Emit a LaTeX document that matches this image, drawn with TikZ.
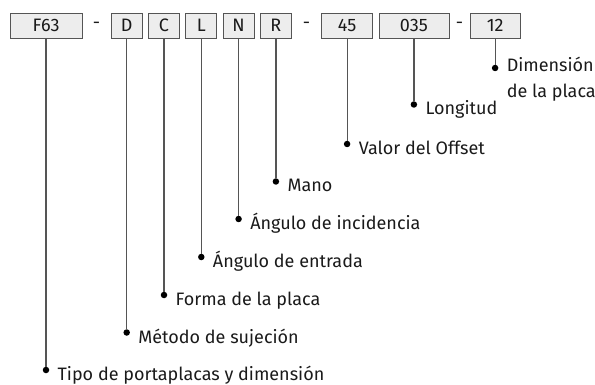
\documentclass[tikz,border=0pt]{standalone}
\usepackage{fontspec}
\setmainfont{Fira Sans}
\usetikzlibrary{positioning}
\definecolor{CodeFill}{HTML}{EDEDED}
\definecolor{CodeLine}{HTML}{555555}
\definecolor{TextDark}{HTML}{1A1A1A}

\begin{document}
\begin{tikzpicture}[x=1pt,y=1pt,node distance=5.5pt]
  \tikzstyle{code}=[draw=CodeLine,fill=CodeFill,line width=0.8pt,
    minimum height=25pt,minimum width=31pt,inner sep=0pt,
    text=TextDark,font=\fontsize{18}{20}\selectfont]
  \tikzstyle{sep}=[inner sep=0pt,minimum height=25pt,
    text=TextDark,font=\fontsize{18}{20}\selectfont]
  \tikzstyle{dot}=[circle,fill=black,inner sep=0pt,minimum size=6.5pt]
  \tikzstyle{lead}=[draw=CodeLine,line width=1.2pt]
  \tikzstyle{desc}=[anchor=base west,inner sep=0pt,align=left,
    text=TextDark,font=\fontsize{18}{26.5}\selectfont]
  \useasboundingbox (0,0) rectangle (595,-385);
  % code boxes
  \node[code,minimum width=72pt] (f63) at (46,-25.5) {F63};
  \node[sep,minimum width=28pt,right=0pt of f63] (s1) {-};
  \node[code,right=0pt of s1] (d) {D};
  \node[code,right=of d] (c) {C};
  \node[code,right=of c] (l) {L};
  \node[code,right=of l] (n) {N};
  \node[code,right=of n] (r) {R};
  \node[sep,minimum width=29pt,right=0pt of r] (s2) {-};
  \node[code,minimum width=51pt,right=0pt of s2] (off) {45};
  \node[code,minimum width=70pt,right=of off] (len) {035};
  \node[sep,minimum width=20pt,right=0pt of len] (s3) {-};
  \node[code,minimum width=50pt,right=0pt of s3] (dim) {12};
  % dots
  \node[dot] (p1) at (f63.south |- 0,-370) {};
  \node[dot] (p2) at (d.south |- 0,-332.5) {};
  \node[dot] (p3) at (c.south |- 0,-295) {};
  \node[dot] (p4) at (l.south |- 0,-257) {};
  \node[dot] (p5) at (n.south |- 0,-219) {};
  \node[dot] (p6) at (r.south |- 0,-181.5) {};
  \node[dot] (p7) at (off.south |- 0,-144) {};
  \node[dot] (p8) at (len.south |- 0,-104.5) {};
  \node[dot] (p9) at (dim.south |- 0,-68) {};
  \draw[lead] (f63) -- (p1);
  \draw[lead] (d) -- (p2);
  \draw[lead] (c) -- (p3);
  \draw[lead] (l) -- (p4);
  \draw[lead] (n) -- (p5);
  \draw[lead] (r) -- (p6);
  \draw[lead] (off) -- (p7);
  \draw[lead] (len) -- (p8);
  \draw[lead] (dim) -- (p9);
  % descriptions
  \node[desc] at ([shift={(8pt,-10.5pt)}]p1.east) {Tipo de portaplacas y dimensión};
  \node[desc] at ([shift={(8pt,-10.5pt)}]p2.east) {Método de sujeción};
  \node[desc] at ([shift={(8pt,-10.5pt)}]p3.east) {Forma de la placa};
  \node[desc] at ([shift={(8pt,-10.5pt)}]p4.east) {Ángulo de entrada};
  \node[desc] at ([shift={(8pt,-10.5pt)}]p5.east) {Ángulo de incidencia};
  \node[desc] at ([shift={(8pt,-10.5pt)}]p6.east) {Mano};
  \node[desc] at ([shift={(8pt,-10.5pt)}]p7.east) {Valor del Offset};
  \node[desc] at ([shift={(8pt,-10.5pt)}]p8.east) {Longitud};
  \node[desc] at ([shift={(8pt,-30pt)}]p9.east) {Dimensión\\de la placa};
\end{tikzpicture}
\end{document}
